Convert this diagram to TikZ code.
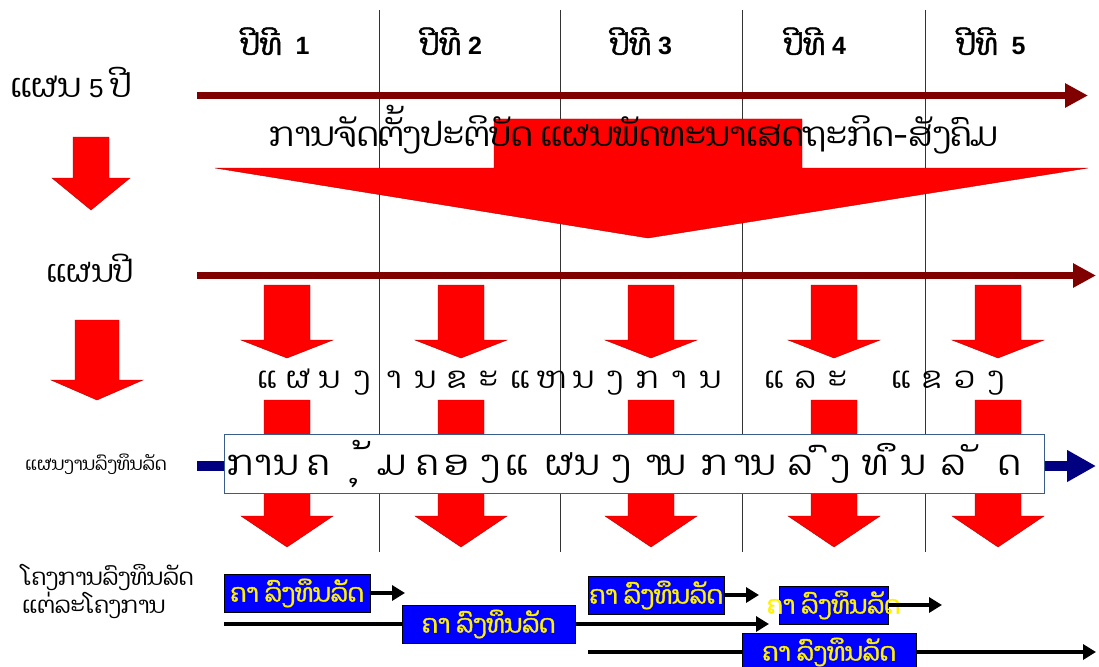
\documentclass[tikz,border=0pt]{standalone}
\usepackage{fontspec}
\setmainfont{Liberation Sans}
\newfontfamily\laofont[Script=Lao,AutoFakeBold=1.5]{Dhyana}
\usetikzlibrary{arrows.meta}

\definecolor{darkred}{HTML}{800000}
\definecolor{navy}{HTML}{000080}
\definecolor{boxline}{HTML}{385D8A}

% centre x, top, head base, tip, half shaft, half head
\newcommand{\redarrow}[6]{%
  \fill[redarrow] ({#1-#5},#2) -- ({#1+#5},#2) -- ({#1+#5},#3) -- ({#1+#6},#3)
    -- (#1,#4) -- ({#1-#6},#3) -- ({#1-#5},#3) -- cycle;}

\begin{document}
\begin{tikzpicture}[x=1pt,y=-1pt]
\tikzstyle{every node}+=[inner sep=0pt]
\tikzstyle{redarrow}=[fill=red, draw=red!70!black, line width=0.4pt]
\tikzstyle{yearline}=[draw=darkred, line width=7pt, -{Triangle[length=23pt,width=23pt]}]
\tikzstyle{pipline}=[draw=navy, line width=10pt, -{Triangle[length=29pt,width=30pt]}]
\tikzstyle{jobbox}=[draw=black, fill=blue, text=yellow, minimum height=38pt, font=\fontsize{25}{28}\laofont\bfseries]
\tikzstyle{jobline}=[line width=4.5pt, -{Triangle[length=13pt,width=15pt]}]
\tikzstyle{yearlab}=[anchor=base, font=\fontsize{25}{28}\selectfont\bfseries]
\useasboundingbox (0,0) rectangle (1099,666);

% year columns
\foreach \x in {379,560,742,925}
  \draw [black!80, line width=0.8pt] (\x,10) -- (\x,552);
\node [yearlab] (yr1) at (275,55) {{\fontsize{30}{34}\laofont ປີທີ}\ \ 1};
\node [yearlab] (yr2) at (451,55) {{\fontsize{30}{34}\laofont ປີທີ} 2};
\node [yearlab] (yr3) at (641,55) {{\fontsize{30}{34}\laofont ປີທີ} 3};
\node [yearlab] (yr4) at (815,55) {{\fontsize{30}{34}\laofont ປີທີ} 4};
\node [yearlab] (yr5) at (991,55) {{\fontsize{30}{34}\laofont ປີທີ}\ \ 5};

% 5-year plan
\node [anchor=base west] (plan5) at (10,98) {\fontsize{26}{30}\selectfont{\fontsize{33}{36}\laofont ແຜນ} 5 {\fontsize{33}{36}\laofont ປີ}};
\coordinate (t1s) at (197,95.5);
\coordinate (t1e) at (1088,95.5);
\draw [yearline] (t1s) -- (t1e);
\fill [redarrow] (494,119) -- (802,119) -- (802,168) -- (1088,168) -- (648,238)
  -- (215,168) -- (494,168) -- cycle;
\node [anchor=base] (title) at (634,146) {\fontsize{33.6}{38}\laofont ການຈັດຕັ້ງປະຕິບັດ ແຜນພັດທະນາເສດຖະກິດ-ສັງຄົມ};
\redarrow{91}{137}{178}{210}{18}{39}

% annual plan
\node [anchor=base] (plan1) at (90,282) {\fontsize{31}{34}\laofont ແຜນປີ};
\coordinate (t2s) at (197,275.5);
\coordinate (t2e) at (1096,275.5);
\draw [yearline] (t2s) -- (t2e);
\redarrow{97}{320}{380}{400}{22}{46}
\foreach \x in {287,461,651,834,998} {
  \redarrow{\x}{285}{340}{358}{23}{46}
  \redarrow{\x}{400}{516}{547}{23}{46}
}
\foreach \c [count=\i] in {ແ,ຜ,ນ,ງ,າ,ນ,ຂ,ະ,ແ,ຫ,ນ,ງ,ກ,າ,ນ,{},ແ,ລ,ະ,{},ແ,ຂ,ວ,ງ}
  \node [anchor=base] (sec\i) at ({235.3+31.7*\i},388) {\fontsize{30}{34}\laofont\c};

% public investment programme
\node [anchor=base west] (piplab) at (25,470) {\fontsize{18}{20}\laofont ແຜນງານລົງທຶນລັດ};
\coordinate (ps) at (197,466);
\coordinate (pe) at (1096,466);
\draw [pipline] (ps) -- (pe);
\node [draw=boxline, line width=1pt, fill=white, minimum width=820pt, minimum height=59pt] (pipbox) at (634,464) {};
\foreach \x/\c [count=\i] in {240/ກ,263/າ,287/ນ,318/ຄ,360/ຸ,374/້,392/ມ,427/ຄ,457/ອ,491/ງ,517/ແ,560/ຜ,588/ນ,622/ງ,654/າ,674/ນ,714/ກ,742/າ,764/ນ,800/ລ,830/ົ,841/ງ,875/ທ,899/ຶ,914/ນ,953/ລ,980/ັ,1010/ດ}
  \node [anchor=base] (pip\i) at (\x,475) {\fontsize{35}{38}\laofont\c};

% projects
\node [anchor=base west, align=left, font=\fontsize{23}{28}\laofont] (proj) at (22,613) {ໂຄງການລົງທຶນລັດ\\ແຕ່ລະໂຄງການ};
\node [jobbox, minimum width=146pt] (job1) at (297,593) {\makebox[0pt]{ຄາ ລົງທຶນລັດ}};
\node [jobbox, minimum width=173pt] (job2) at (488.5,624) {\makebox[0pt]{ຄາ ລົງທຶນລັດ}};
\node [jobbox, minimum width=136pt] (job3) at (656,595) {\makebox[0pt]{ຄາ ລົງທຶນລັດ}};
\node [jobbox, minimum width=109pt] (job4) at (833.5,605) {\makebox[0pt]{ຄາ ລົງທຶນລັດ}};
\node [jobbox, minimum width=174pt] (job5) at (829,652) {\makebox[0pt]{\raisebox{2pt}{ຄາ ລົງທຶນລັດ}}};
\coordinate (e1) at (405,593);
\coordinate (s2) at (224,624);
\coordinate (e2) at (769,624);
\coordinate (e3) at (759,595);
\coordinate (e4) at (942,605);
\coordinate (s5) at (588,652);
\coordinate (e5) at (1096,652);
\draw [jobline] (job1) -- (e1);
\draw [line width=4.5pt] (s2) -- (job2);
\draw [jobline] (job2) -- (e2);
\draw [jobline] (job3) -- (e3);
\draw [jobline] (job4) -- (e4);
\draw [line width=4.5pt] (s5) -- (job5);
\draw [jobline] (job5) -- (e5);
\end{tikzpicture}
\end{document}
